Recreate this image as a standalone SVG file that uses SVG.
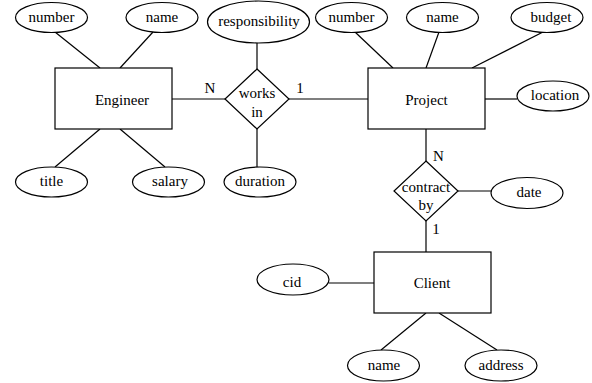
<svg xmlns="http://www.w3.org/2000/svg" width="592" height="383" viewBox="0 0 592 383" font-family="Liberation Serif, serif" font-size="15">
<style>
.s{fill:#fff;stroke:#000;stroke-width:1.2}
.l{stroke:#000;stroke-width:1.2;fill:none}
text{fill:#000;text-anchor:middle}
</style>
<rect width="592" height="383" fill="#fff"/>
<g id="connectors">
<line class="l" x1="55" y1="32" x2="100" y2="68"/>
<line class="l" x1="153" y1="32" x2="120" y2="68"/>
<line class="l" x1="55" y1="167" x2="100" y2="129"/>
<line class="l" x1="165" y1="167" x2="120" y2="129"/>
<line class="l" x1="172" y1="99" x2="225" y2="99"/>
<line class="l" x1="289" y1="99" x2="368" y2="99"/>
<line class="l" x1="257" y1="43" x2="257" y2="69"/>
<line class="l" x1="257" y1="129" x2="257" y2="167"/>
<line class="l" x1="355" y1="32" x2="393" y2="68"/>
<line class="l" x1="439" y1="32" x2="426" y2="68"/>
<line class="l" x1="543" y1="32" x2="472" y2="68"/>
<line class="l" x1="485" y1="99" x2="517" y2="99"/>
<line class="l" x1="426" y1="129" x2="426" y2="161"/>
<line class="l" x1="458" y1="191" x2="491" y2="191"/>
<line class="l" x1="426" y1="221" x2="426" y2="252"/>
<line class="l" x1="329" y1="283" x2="374" y2="283"/>
<line class="l" x1="381" y1="350" x2="426" y2="313"/>
<line class="l" x1="497" y1="350" x2="439" y2="313"/>
<text x="210" y="93">N</text>
<text x="300" y="93">1</text>
<text x="438.5" y="161">N</text>
<text x="436" y="234">1</text>
</g>
<g id="engineer"><rect class="s" x="55" y="68" width="117" height="61"/><text x="122" y="105">Engineer</text></g>
<g id="eng-number"><ellipse class="s" cx="51.5" cy="17.5" rx="36" ry="15"/><text x="51.5" y="22">number</text></g>
<g id="eng-name"><ellipse class="s" cx="162" cy="17.5" rx="36" ry="15"/><text x="162" y="22">name</text></g>
<g id="eng-title"><ellipse class="s" cx="51.5" cy="182" rx="36" ry="15"/><text x="51.5" y="186">title</text></g>
<g id="eng-salary"><ellipse class="s" cx="168.5" cy="182" rx="36" ry="15"/><text x="170" y="186">salary</text></g>
<g id="works-in"><polygon class="s" points="257,69 289,99 257,129 225,99"/><text x="257" y="98">works</text><text x="257" y="117">in</text></g>
<g id="responsibility"><ellipse class="s" cx="258.5" cy="22" rx="51" ry="21"/><text x="259" y="26">responsibility</text></g>
<g id="duration"><ellipse class="s" cx="260" cy="182" rx="36" ry="15"/><text x="260" y="186">duration</text></g>
<g id="project"><rect class="s" x="368" y="68" width="117" height="61"/><text x="426.5" y="105">Project</text></g>
<g id="proj-number"><ellipse class="s" cx="351.5" cy="17.5" rx="36" ry="15"/><text x="351.5" y="22">number</text></g>
<g id="proj-name"><ellipse class="s" cx="442.5" cy="17.5" rx="36" ry="15"/><text x="442.5" y="22">name</text></g>
<g id="proj-budget"><ellipse class="s" cx="547" cy="17.5" rx="36" ry="15"/><text x="551" y="22">budget</text></g>
<g id="proj-location"><ellipse class="s" cx="553" cy="96" rx="36" ry="15"/><text x="555" y="100">location</text></g>
<g id="contract-by"><polygon class="s" points="426,161 458,191 426,221 394,191"/><text x="426" y="192">contract</text><text x="426" y="210">by</text></g>
<g id="date"><ellipse class="s" cx="527" cy="193" rx="36" ry="15.5"/><text x="529" y="197">date</text></g>
<g id="client"><rect class="s" x="374" y="252" width="117" height="61"/><text x="432" y="288">Client</text></g>
<g id="cid"><ellipse class="s" cx="293" cy="279.5" rx="36" ry="15.5"/><text x="292" y="287">cid</text></g>
<g id="client-name"><ellipse class="s" cx="383.5" cy="365.5" rx="36" ry="15.5"/><text x="384" y="370">name</text></g>
<g id="client-address"><ellipse class="s" cx="501" cy="365.5" rx="36" ry="15.5"/><text x="501" y="370">address</text></g>
</svg>
